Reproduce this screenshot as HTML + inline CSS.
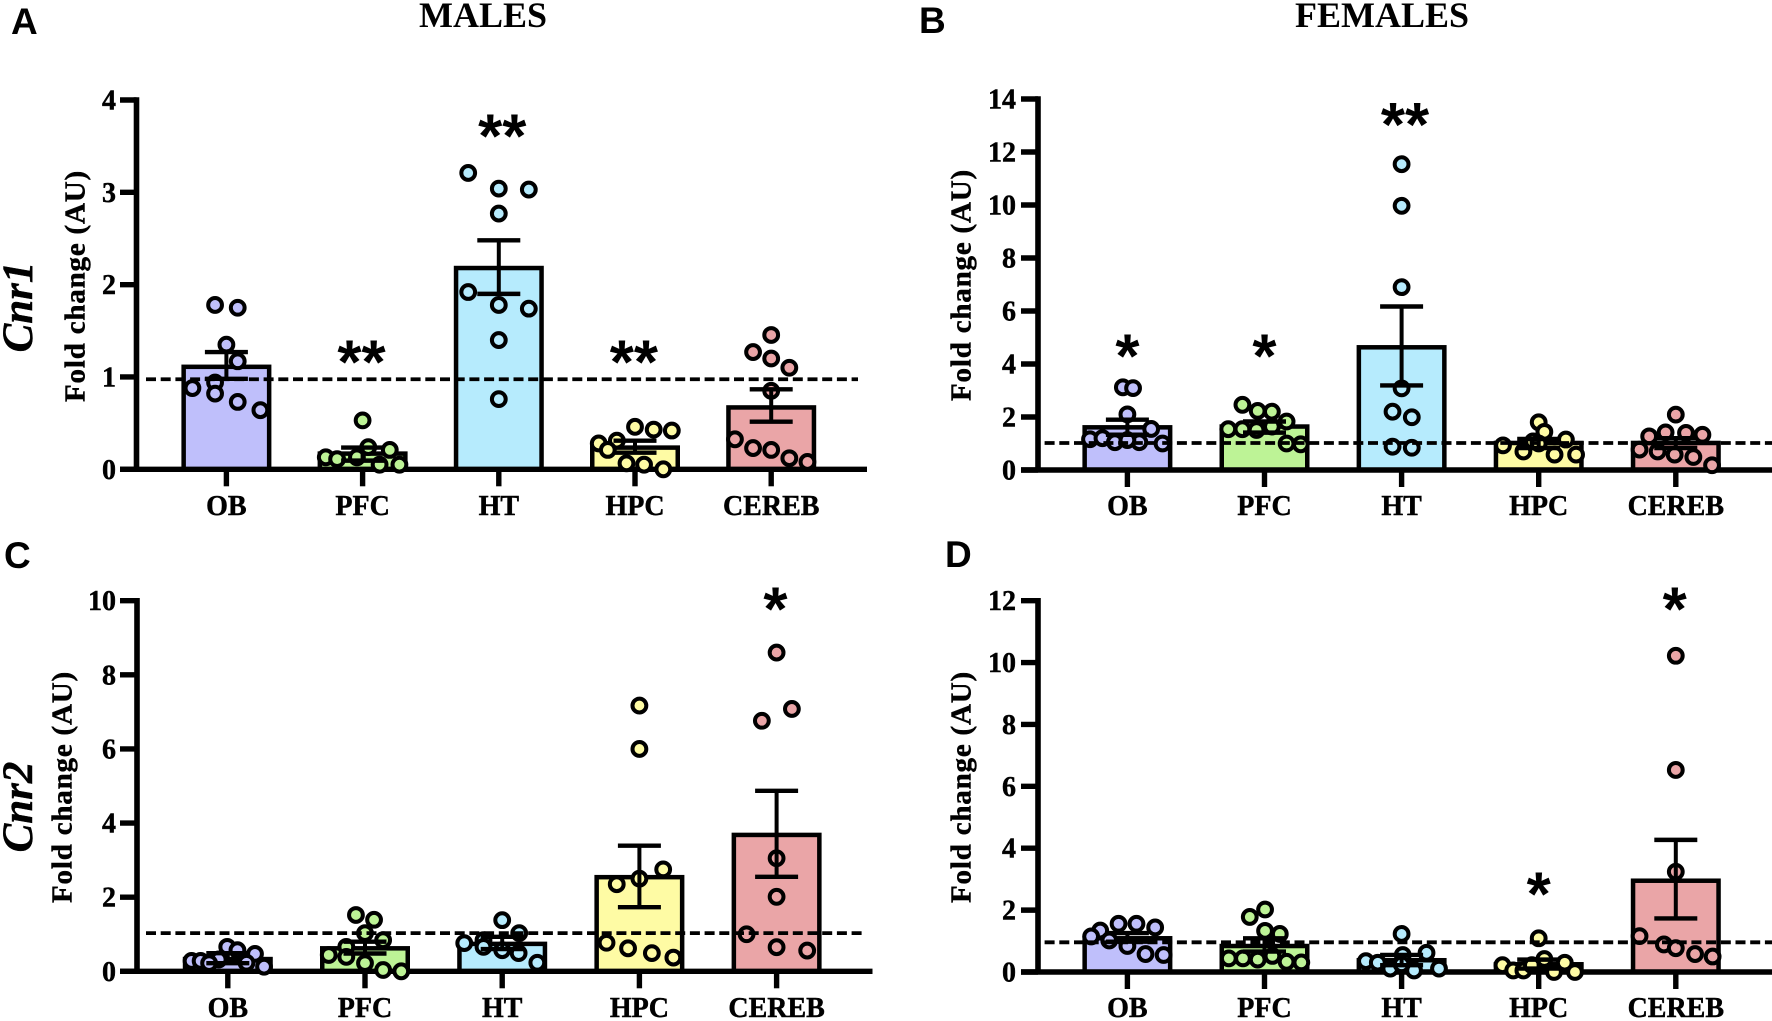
<!DOCTYPE html>
<html lang="en">
<head>
<meta charset="utf-8">
<title>Cnr1 and Cnr2 fold change by brain region</title>
<style>
html,body{margin:0;padding:0;background:#fff;width:1772px;height:1021px;overflow:hidden}
svg{display:block}
text{fill:#000;font-family:"Liberation Serif",serif;font-weight:bold;stroke:#000;stroke-width:.45px}
.ylab{font-size:29px;letter-spacing:.8px;text-anchor:middle}
.gene{font-size:43px;font-style:italic;text-anchor:middle}
.title{font-size:36px;text-anchor:middle;stroke-width:0}
.letter{font-family:"Liberation Sans",sans-serif;font-size:37px;stroke-width:0}
</style>
</head>
<body>
<svg id="figure" xmlns="http://www.w3.org/2000/svg" width="1772" height="1021" viewBox="0 0 1772 1021">
  <text class="title" x="483" y="27">MALES</text>
  <text class="title" x="1382" y="27">FEMALES</text>
  <text class="letter" x="11" y="34">A</text>
  <text class="letter" x="919" y="33">B</text>
  <text class="letter" x="4" y="568">C</text>
  <text class="letter" x="945" y="567">D</text>
  <text class="gene" transform="translate(32,307) rotate(-90)">Cnr1</text>
  <text class="gene" transform="translate(32,807) rotate(-90)">Cnr2</text>
  <text class="ylab" transform="translate(84.5,286) rotate(-90)">Fold change (AU)</text>
  <text class="ylab" transform="translate(970.5,285) rotate(-90)">Fold change (AU)</text>
  <text class="ylab" transform="translate(71.5,787) rotate(-90)">Fold change (AU)</text>
  <text class="ylab" transform="translate(970.5,787) rotate(-90)">Fold change (AU)</text>
</svg>
<script>
const categories = ['OB', 'PFC', 'HT', 'HPC', 'CEREB'];
const barColors = ['#bfbffb', '#bdf396', '#b6ebfd', '#fefba4', '#eaa5a7'];

/* Panel A: Cnr1, males */
const aTicks = [0, 1, 2, 3, 4];
const aMeans = [1.11, 0.17, 2.18, 0.235, 0.67];
const aUpper = [1.27, 0.235, 2.48, 0.31, 0.866];
const aLower = [0.98, 0.094, 1.90, 0.18, 0.516];
const aReference = 0.975;
const aPoints = [
  [1.78, 1.75, 1.35, 1.17, 0.94, 0.88, 0.82, 0.73, 0.64],
  [0.53, 0.24, 0.21, 0.13, 0.11, 0.13, 0.05, 0.05],
  [3.21, 3.04, 3.03, 2.77, 1.92, 1.78, 1.74, 1.40, 0.76],
  [0.46, 0.43, 0.42, 0.31, 0.28, 0.21, 0.065, 0.05, 0.0],
  [1.455, 1.27, 1.2, 1.10, 0.85, 0.325, 0.23, 0.21, 0.12, 0.08]
];
const aSwarm = [
  [-1, 1, 0, 1, -1, -3, -1, 1, 3],
  [0, 0.5, 2.4, -3.25, -2.25, -0.5, 1.5, 3.25],
  [-2.7, 0, 2.65, 0, -2.7, 0, 2.65, 0, 0],
  [0, 1.65, 3.25, -1.6, -3.2, -2.4, -0.75, 0.8, 2.5],
  [0, -1.6, 0, 1.6, 0, -3.2, -1.6, 0, 1.6, 3.2]
];
const aStars = ['', '**', '**', '**', ''];
const aStarLevels = [0, 1.15, 3.6, 1.15, 0];
const aStarSlots = [0, -0.1, 0.3, -0.1, 0];

/* Panel B: Cnr1, females */
const bTicks = [0, 2, 4, 6, 8, 10, 12, 14];
const bMeans = [1.61, 1.64, 4.63, 1.02, 1.02];
const bUpper = [1.9, 1.83, 6.17, 1.17, 1.2];
const bLower = [1.33, 1.41, 3.19, 0.83, 0.83];
const bReference = 1.02;
const bPoints = [
  [3.12, 3.09, 2.1, 1.55, 1.16, 1.2, 1.05, 1.05, 1.13, 1.0],
  [2.46, 2.23, 2.2, 1.83, 1.54, 1.54, 1.51, 1.64, 1.0, 0.97],
  [11.54, 9.97, 6.9, 3.08, 2.2, 1.99, 0.88, 0.84],
  [1.8, 1.44, 1.15, 1.08, 0.93, 0.7, 0.58, 0.58, 1.0],
  [2.09, 1.42, 1.4, 1.27, 1.33, 0.77, 0.7, 0.58, 0.49, 0.18]
];
const bSwarm = [
  [-0.4, 0.5, 0, 2.1, -3.3, -2.2, -1.1, 1.05, 0, 3.1],
  [-1.95, -0.6, 0.65, 1.95, -3.2, -1.95, -0.7, 0.65, 1.95, 3.2],
  [0, 0, 0, 0, -0.8, 0.9, -0.8, 0.9],
  [0, 0.5, 2.4, -0.5, -3.15, -1.35, 1.4, 3.3, 0],
  [0, -0.9, 0.9, -2.35, 2.35, -3.2, -1.6, -0.1, 1.55, 3.2]
];
const bStars = ['*', '*', '**', '', ''];
const bStarLevels = [4.26, 4.26, 13.0, 0, 0];
const bStarSlots = [0, 0, 0.3, 0, 0];

/* Panel C: Cnr2, males */
const cTicks = [0, 2, 4, 6, 8, 10];
const cMeans = [0.33, 0.62, 0.74, 2.54, 3.68];
const cUpper = [0.49, 0.8, 0.93, 3.39, 4.87];
const cLower = [0.22, 0.48, 0.6, 1.73, 2.55];
const cReference = 1.03;
const cPoints = [
  [0.66, 0.57, 0.47, 0.28, 0.28, 0.32, 0.23, 0.124, 0.22],
  [1.52, 1.39, 1.03, 0.84, 0.66, 0.44, 0.39, 0.22, 0.035, 0.0],
  [1.38, 1.03, 0.84, 0.76, 0.66, 0.57, 0.49, 0.23],
  [7.17, 6.0, 2.75, 2.5, 2.35, 0.77, 0.62, 0.49, 0.37],
  [8.6, 7.08, 6.76, 3.05, 2.01, 1.0, 0.65, 0.56]
];
const cSwarm = [
  [-0.05, 0.85, 2.4, -3.2, -2.4, -0.8, 1.65, 3.2, -1.65],
  [-0.8, 0.8, 0, 1.6, -1.65, -3.2, -1.65, 0, 1.6, 3.2],
  [0, 1.5, -1.65, -3.35, -1.65, 0, 1.45, 3.1],
  [0, 0, 2.1, 0, -2, -2.9, -1, 1.1, 3],
  [0, 1.35, -1.3, 0, 0, -2.65, 0, 2.7]
];
const cStars = ['', '', '', '', '*'];
const cStarLevels = [0, 0, 0, 0, 9.75];
const cStarSlots = [0, 0, 0, 0, -0.1];

/* Panel D: Cnr2, females */
const dTicks = [0, 2, 4, 6, 8, 10, 12];
const dMeans = [1.09, 0.84, 0.38, 0.25, 2.95];
const dUpper = [1.26, 1.09, 0.55, 0.4, 4.27];
const dLower = [0.98, 0.66, 0.22, 0.11, 1.73];
const dReference = 0.96;
const dPoints = [
  [1.56, 1.56, 1.44, 1.34, 1.15, 1.02, 0.84, 0.58, 0.55],
  [2.02, 1.78, 1.33, 1.23, 0.44, 0.44, 0.4, 0.52, 0.33, 0.31],
  [1.23, 0.62, 0.55, 0.35, 0.3, 0.11, 0.05, 0.11, 0.25],
  [1.09, 0.42, 0.3, 0.22, 0.05, 0.05, 0.0, 0.0, 0.22],
  [10.22, 6.53, 3.24, 1.16, 0.89, 0.77, 0.58, 0.5]
];
const dSwarm = [
  [-0.78, 0.8, 2.45, -2.4, -3.2, -1.6, 0, 1.6, 3.2],
  [0.05, -1.3, 0.05, 1.35, -3.15, -1.9, -0.6, 0.7, 1.95, 3.25],
  [0, 2.2, 0.1, -3.15, -2.1, -1, 1.1, 3.3, 0],
  [0, 0.5, 2.3, -3.2, -2.25, -1.35, 1.35, 3.2, -0.6],
  [0, 0, 0, -3.2, -1.05, 0, 1.7, 3.25]
];
const dStars = ['', '', '', '*', '*'];
const dStarLevels = [0, 0, 0, 2.49, 11.7];
const dStarSlots = [0, 0, 0, 0, -0.1];

const panels = [
  {id: 'a', ticks: aTicks, means: aMeans, upper: aUpper, lower: aLower, ref: aReference, pts: aPoints, swarm: aSwarm, stars: aStars, starLevels: aStarLevels, starSlots: aStarSlots,
   axisX: 136.5, top: 100, base: 469.3, xStart: 120, xEnd: 867, cx0: 226.4, step: 136.2, dash0: 146, dash1: 858, labelRight: 116, labelBase: 515},
  {id: 'b', ticks: bTicks, means: bMeans, upper: bUpper, lower: bLower, ref: bReference, pts: bPoints, swarm: bSwarm, stars: bStars, starLevels: bStarLevels, starSlots: bStarSlots,
   axisX: 1038, top: 99, base: 470, xStart: 1021, xEnd: 1772, cx0: 1127.4, step: 137.1, dash0: 1044.6, dash1: 1772, labelRight: 1016, labelBase: 515},
  {id: 'c', ticks: cTicks, means: cMeans, upper: cUpper, lower: cLower, ref: cReference, pts: cPoints, swarm: cSwarm, stars: cStars, starLevels: cStarLevels, starSlots: cStarSlots,
   axisX: 137, top: 600.7, base: 971.3, xStart: 120, xEnd: 872.5, cx0: 227.8, step: 137.2, dash0: 146, dash1: 864, labelRight: 116, labelBase: 1017},
  {id: 'd', ticks: dTicks, means: dMeans, upper: dUpper, lower: dLower, ref: dReference, pts: dPoints, swarm: dSwarm, stars: dStars, starLevels: dStarLevels, starSlots: dStarSlots,
   axisX: 1038, top: 600.7, base: 972, xStart: 1021, xEnd: 1772, cx0: 1127.4, step: 137.1, dash0: 1044.6, dash1: 1772, labelRight: 1016, labelBase: 1017}
];

const SLOT = 11.33;
const BAR_W = 85.5;
const CAP_W = 43;
const SVG_NS = 'http://www.w3.org/2000/svg';
const fig = document.getElementById('figure');

function make(parent, tag, props) {
  const node = document.createElementNS(SVG_NS, tag);
  for (const k in props) node.setAttribute(k, props[k]);
  parent.appendChild(node);
  return node;
}

function drawPanel(p) {
  const maxV = p.ticks[p.ticks.length - 1];
  const yScale = v => p.base - v * (p.base - p.top) / maxV;
  const xScale = (i, slot) => p.cx0 + i * p.step + (slot || 0) * SLOT;

  const g = make(fig, 'g', {});
  
  

  categories.forEach((cat, i) => {
    const bar = make(g, 'rect', {x: xScale(i) - BAR_W / 2, y: yScale(p.means[i]), width: BAR_W, height: p.base - yScale(p.means[i]), fill: barColors[i], stroke: '#000', 'stroke-width': 4.5});
    
    
  });

  const yAxis = make(g, 'line', {x1: p.axisX, x2: p.axisX, y1: p.top - 2.75, y2: p.base, stroke: '#000', 'stroke-width': 5.6});
  
  

  const xAxis = make(g, 'line', {x1: p.xStart, x2: p.xEnd, y1: p.base, y2: p.base, stroke: '#000', 'stroke-width': 5.4});
  
  

  p.ticks.forEach(t => {
    const tick = make(g, 'line', {x1: p.xStart, x2: p.axisX, y1: yScale(t), y2: yScale(t), stroke: '#000', 'stroke-width': 5.4});
    
    
    const label = make(g, 'text', {x: p.labelRight, y: yScale(t) + 9.5, 'text-anchor': 'end', 'font-size': 28});
    
    
    label.textContent = t;
  });

  categories.forEach((cat, i) => {
    const tick = make(g, 'line', {x1: xScale(i), x2: xScale(i), y1: p.base, y2: p.base + 17, stroke: '#000', 'stroke-width': 5.4});
    
    
    const label = make(g, 'text', {x: xScale(i), y: p.labelBase, 'text-anchor': 'middle', 'font-size': 28});
    
    
    label.textContent = cat;
  });

  categories.forEach((cat, i) => {
    p.pts[i].forEach((v, j) => {
      const dot = make(g, 'circle', {cx: xScale(i, p.swarm[i][j]), cy: yScale(v), r: 6.9, fill: barColors[i], stroke: '#000', 'stroke-width': 4});
      
      
    });
  });

  categories.forEach((cat, i) => {
    const cx = xScale(i);
    const stem = make(g, 'line', {x1: cx, x2: cx, y1: yScale(p.upper[i]), y2: yScale(p.lower[i]), stroke: '#000', 'stroke-width': 4});
    
    
    [p.upper[i], p.lower[i]].forEach(v => {
      const cap = make(g, 'line', {x1: cx - CAP_W / 2, x2: cx + CAP_W / 2, y1: yScale(v), y2: yScale(v), stroke: '#000', 'stroke-width': 4.4});
      
      
    });
  });

  const refLine = make(g, 'line', {x1: p.dash0, x2: p.dash1, y1: yScale(p.ref), y2: yScale(p.ref), stroke: '#000', 'stroke-width': 3.8, 'stroke-dasharray': '10 4.7'});
  
  

  categories.forEach((cat, i) => {
    if (!p.stars[i]) return;
    const star = make(g, 'text', {x: xScale(i, p.starSlots[i]), y: yScale(p.starLevels[i]) + 20.5, 'text-anchor': 'middle', 'font-size': 62, style: 'font-family:"Liberation Sans",sans-serif;stroke-width:0'});
    
    
    star.textContent = p.stars[i];
  });
}

panels.forEach(drawPanel);
</script>
</body>
</html>
